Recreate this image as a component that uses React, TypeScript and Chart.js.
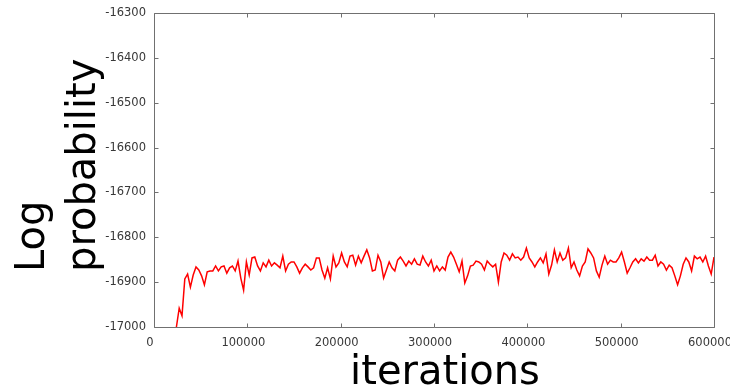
import { useEffect, useRef } from 'react';
import { Chart, registerables } from 'chart.js';

Chart.register(...registerables);

// Sampling of the trace (iterations)
const ITER_START = 24000;
const ITER_STEP = 3000;

// Log probability, one value per sample
const LOG_PROB = [
  -17000, -16958, -16975, -16893, -16882, -16911, -16884, -16866, -16873, -16886,
  -16906, -16877, -16875, -16875, -16864, -16875, -16866, -16864, -16880, -16868,
  -16864, -16875, -16853, -16891, -16918, -16855, -16884, -16846, -16844, -16864,
  -16875, -16857, -16866, -16851, -16864, -16857, -16862, -16868, -16842, -16875,
  -16860, -16855, -16855, -16866, -16880, -16868, -16860, -16866, -16873, -16868,
  -16846, -16846, -16873, -16891, -16868, -16893, -16842, -16866, -16857, -16835,
  -16855, -16866, -16842, -16840, -16862, -16842, -16857, -16842, -16828, -16846,
  -16875, -16873, -16840, -16855, -16891, -16873, -16855, -16868, -16875, -16851,
  -16844, -16853, -16864, -16853, -16860, -16848, -16860, -16862, -16842, -16855,
  -16864, -16851, -16875, -16864, -16875, -16866, -16873, -16844, -16833, -16844,
  -16860, -16877, -16853, -16902, -16886, -16864, -16862, -16853, -16855, -16860,
  -16873, -16853, -16860, -16866, -16860, -16900, -16855, -16835, -16840, -16851,
  -16837, -16846, -16844, -16851, -16844, -16824, -16846, -16855, -16866, -16855,
  -16846, -16857, -16837, -16882, -16862, -16828, -16855, -16835, -16851, -16846,
  -16824, -16868, -16855, -16873, -16886, -16864, -16855, -16826, -16835, -16846,
  -16875, -16889, -16862, -16842, -16860, -16851, -16855, -16855, -16846, -16833,
  -16855, -16880, -16868, -16855, -16848, -16857, -16848, -16853, -16844, -16851,
  -16851, -16840, -16864, -16855, -16860, -16873, -16862, -16868, -16886, -16906,
  -16886, -16860, -16846, -16855, -16875, -16842, -16848, -16844, -16855, -16842,
  -16864, -16882, -16844,
];

const X_TICKS = [0, 100000, 200000, 300000, 400000, 500000, 600000];
const X_TICK_LABELS = ['0', '100000', '200000', '300000', '400000', '500000', '600000'];
const Y_TICKS = [-17000, -16900, -16800, -16700, -16600, -16500, -16400, -16300];
const Y_TICK_LABELS = ['-17000', '-16900', '-16800', '-16700', '-16600', '-16500', '-16400', '-16300'];

const Y_TITLE = ['Log', 'probability'];
const X_TITLE = 'iterations';

const FRAME_COLOR = '#707070';
const LINE_COLOR = '#ff0000';

const framePlugin = {
  id: 'frameAndTitles',
  afterDraw(chart: any) {
    const { ctx, chartArea: a, scales } = chart;
    ctx.save();
    ctx.strokeStyle = FRAME_COLOR;
    ctx.lineWidth = 1;
    const l = Math.round(a.left) + 0.5;
    const r = Math.round(a.right) + 0.5;
    const t = Math.round(a.top) + 0.5;
    const b = Math.round(a.bottom) + 0.5;
    ctx.beginPath();
    ctx.moveTo(l, t);
    ctx.lineTo(r, t);
    ctx.lineTo(r, b);
    ctx.lineTo(l, b);
    ctx.closePath();
    const TL = 4;
    for (const v of X_TICKS) {
      const px = Math.round(scales.x.getPixelForValue(v)) + 0.5;
      ctx.moveTo(px, b);
      ctx.lineTo(px, b - TL);
      ctx.moveTo(px, t);
      ctx.lineTo(px, t + TL);
    }
    for (const v of Y_TICKS) {
      const py = Math.round(scales.y.getPixelForValue(v)) + 0.5;
      ctx.moveTo(l, py);
      ctx.lineTo(l + TL, py);
      ctx.moveTo(r, py);
      ctx.lineTo(r - TL, py);
    }
    ctx.stroke();

    ctx.fillStyle = '#000000';
    ctx.font = '40px "DejaVu Sans"';
    ctx.textAlign = 'left';
    ctx.textBaseline = 'middle';
    const lineX = [34, 85];
    const startY = a.bottom - 55;
    Y_TITLE.forEach((txt, i) => {
      ctx.save();
      ctx.translate(lineX[i], startY);
      ctx.rotate(-Math.PI / 2);
      ctx.fillText(txt, 0, 0);
      ctx.restore();
    });
    ctx.textAlign = 'center';
    ctx.textBaseline = 'alphabetic';
    ctx.fillText(X_TITLE, (a.left + a.right) / 2 + 11, 384);
    ctx.restore();
  },
};

export default function App() {
  const ref = useRef<HTMLCanvasElement>(null);

  useEffect(() => {
    document.body.style.margin = '0';
    const points = LOG_PROB.map((y, i) => ({ x: ITER_START + i * ITER_STEP, y }));
    const tickFont = { family: '"DejaVu Sans"', size: 11.5 };
    const chart = new Chart(ref.current as HTMLCanvasElement, {
      type: 'line',
      data: {
        datasets: [
          {
            data: points,
            borderColor: LINE_COLOR,
            borderWidth: 1.5,
            pointRadius: 0,
            tension: 0,
            fill: false,
          },
        ],
      },
      options: {
        responsive: false,
        animation: false,
        layout: { padding: { top: 13, right: 16, left: 0, bottom: 0 } },
        plugins: {
          legend: { display: false },
          tooltip: { enabled: false },
        },
        scales: {
          x: {
            type: 'linear',
            min: 0,
            max: 600000,
            afterBuildTicks: (s: any) => {
              s.ticks = X_TICKS.map((v) => ({ value: v }));
            },
            afterFit: (s: any) => {
              s.height = 61;
              s.paddingLeft = 0;
              s.paddingRight = 0;
            },
            ticks: {
              callback: (v: any) => X_TICK_LABELS[X_TICKS.indexOf(Number(v))],
              font: tickFont,
              color: '#383838',
              padding: 9,
              maxRotation: 0,
              autoSkip: false,
              labelOffset: -4,
            },
            grid: { display: false, drawTicks: false },
            border: { display: false },
          },
          y: {
            type: 'linear',
            min: -17000,
            max: -16300,
            afterBuildTicks: (s: any) => {
              s.ticks = Y_TICKS.map((v) => ({ value: v }));
            },
            afterFit: (s: any) => {
              s.width = 154;
              s.paddingTop = 0;
              s.paddingBottom = 0;
            },
            ticks: {
              callback: (v: any) => Y_TICK_LABELS[Y_TICKS.indexOf(Number(v))],
              font: tickFont,
              color: '#383838',
              padding: 8,
              autoSkip: false,
            },
            grid: { display: false, drawTicks: false },
            border: { display: false },
          },
        },
      },
      plugins: [framePlugin],
    });
    return () => chart.destroy();
  }, []);

  return (
    <div style={{ width: 730, height: 388 }}>
      <canvas ref={ref} width={730} height={388} style={{ display: 'block' }} />
    </div>
  );
}
